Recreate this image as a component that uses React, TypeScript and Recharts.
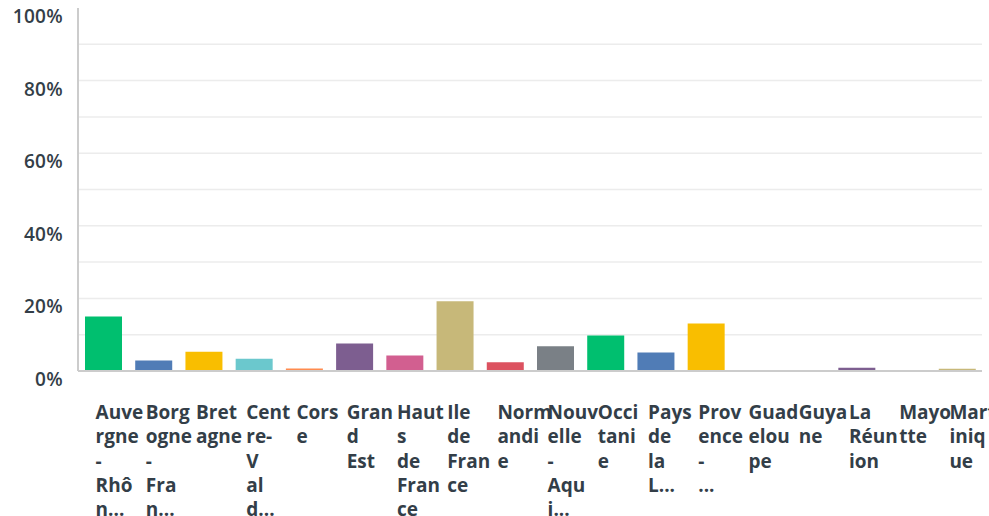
import React from 'react';
import { BarChart, Bar, XAxis, YAxis, CartesianGrid, ReferenceLine, Cell } from 'recharts';

const regions = [
  'Auve|rgne|-|Rhô|n...',
  'Borg|ogne|-|Fra|n...',
  'Bret|agne',
  'Cent|re-|V|al|d...',
  'Cors|e',
  'Gran|d|Est',
  'Haut|s|de|Fran|ce',
  'Ile|de|Fran|ce',
  'Norm|andi|e',
  'Nouv|elle|-|Aqu|i...',
  'Occi|tani|e',
  'Pays|de|la|L...',
  'Prov|ence|-|...',
  'Guad|elou|pe',
  'Guya|ne',
  'La|Réun|ion',
  'Mayo|tte',
  'Mart|iniq|ue',
];

const shares = [15.0, 2.9, 5.3, 3.4, 0.7, 7.6, 4.3, 19.2, 2.4, 6.8, 9.8, 5.1, 13.1, 0, 0, 0.9, 0, 0.6];

const palette = ['#00BF6F', '#507CB6', '#F9BE00', '#6BC8CD', '#FF8B4F', '#7D5E90', '#D25F90', '#C7B879', '#DC5260', '#7A8086'];

const yTicks = [0, 10, 20, 30, 40, 50, 60, 70, 80, 90, 100];

const data = regions.map((r, i) => ({ name: r, value: shares[i] }));

const TEXT = '#333e48';
const FONT = '"Open Sans", sans-serif';

const XTick = (props: any) => {
  const { x, y, payload } = props;
  const lines = String(payload.value).split('|');
  return (
    <text x={x - 7.5} y={y + 40} textAnchor="start" fill={TEXT} fontFamily={FONT} fontWeight={700} fontSize={19}>
      {lines.map((l, i) => (
        <tspan key={i} x={x - 7.5} dy={i === 0 ? 0 : 24.3}>{l}</tspan>
      ))}
    </text>
  );
};

const YTick = (props: any) => {
  const { x, y, payload } = props;
  if (payload.value % 20 !== 0) return <g />;
  return (
    <text x={x - 7} y={y + 15} textAnchor="end" fill={TEXT} fontFamily={FONT} fontWeight={600} fontSize={19} letterSpacing={0.3}>
      {payload.value + '%'}
    </text>
  );
};

export default function App() {
  return (
    <div style={{ position: 'absolute', left: 0, top: 0, width: 989, height: 516, background: '#fff' }}>
      <BarChart width={989} height={516} data={data} margin={{ top: 8, right: 7, left: 0, bottom: 0 }} barSize={37}>
        <CartesianGrid vertical={false} stroke="#ececec" strokeWidth={1.5} />
        <XAxis
          dataKey="name"
          interval={0}
          height={145}
          tickLine={false}
          axisLine={{ stroke: '#cccccc', strokeWidth: 2 }}
          tick={<XTick />}
        />
        <YAxis
          domain={[0, 100]}
          ticks={yTicks}
          interval={0}
          width={78}
          tickLine={false}
          axisLine={{ stroke: '#cccccc', strokeWidth: 2 }}
          tick={<YTick />}
        />
        <ReferenceLine y={100} stroke="#ffffff" strokeWidth={2} />
        <Bar dataKey="value" isAnimationActive={false}>
          {data.map((d, i) => (
            <Cell key={i} fill={palette[i % palette.length]} />
          ))}
        </Bar>
      </BarChart>
    </div>
  );
}
